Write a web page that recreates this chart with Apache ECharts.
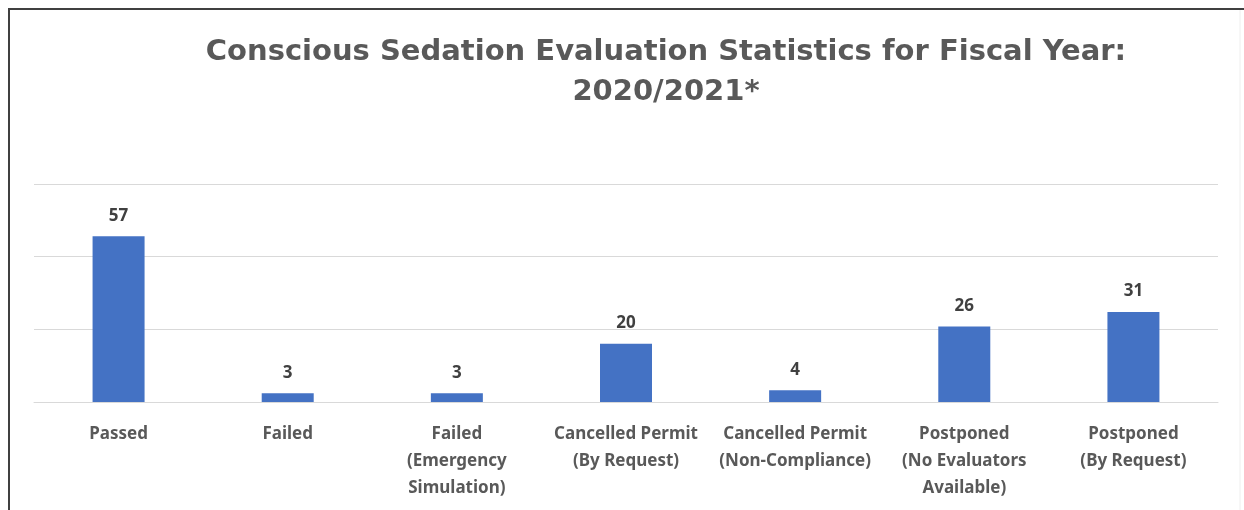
<!DOCTYPE html>
<html>
<head>
<meta charset="utf-8">
<script src="https://cdn.jsdelivr.net/npm/echarts@6/dist/echarts.min.js"></script>
<style>
html,body{margin:0;padding:0;background:#fff;}
#chart{width:1244px;height:510px;}
</style>
</head>
<body>
<div id="chart"></div>
<script>
const titleText = 'Conscious Sedation Evaluation Statistics for Fiscal Year:\n2020/2021*';
const categories = [
  'Passed',
  'Failed',
  'Failed\n(Emergency\nSimulation)',
  'Cancelled Permit\n(By Request)',
  'Cancelled Permit\n(Non-Compliance)',
  'Postponed\n(No Evaluators\nAvailable)',
  'Postponed\n(By Request)'
];
const counts = [57, 3, 3, 20, 4, 26, 31];
const yMin = 0, yMax = 75, yStep = 25;

const chart = echarts.init(document.getElementById('chart'));
chart.setOption({
  animation: false,
  backgroundColor: '#ffffff',
  title: {
    text: titleText,
    left: 661,
    top: 27,
    textAlign: 'center',
    textStyle: {
      fontFamily: 'DejaVu Sans',
      fontWeight: 'bold',
      fontSize: 29,
      color: '#595959',
      lineHeight: 40
    }
  },
  graphic: [
    { type: 'line', shape: { x1: 8, y1: 9, x2: 1244, y2: 9 }, style: { stroke: '#404040', lineWidth: 2 } },
    { type: 'line', shape: { x1: 9, y1: 8, x2: 9, y2: 510 }, style: { stroke: '#404040', lineWidth: 2 } },
    { type: 'line', shape: { x1: 1240, y1: 10, x2: 1240, y2: 510 }, style: { stroke: '#eeeeee', lineWidth: 1 } }
  ],
  grid: { left: 34, right: 26, top: 184, bottom: 108 },
  xAxis: {
    type: 'category',
    data: categories,
    axisLine: { show: true, lineStyle: { color: '#d9d9d9', width: 1 } },
    axisTick: { show: false },
    axisLabel: {
      interval: 0,
      margin: 19,
      fontFamily: 'Noto Sans',
      fontWeight: 'bold',
      fontSize: 17,
      lineHeight: 27,
      color: '#595959'
    }
  },
  yAxis: {
    type: 'value',
    min: yMin, max: yMax, interval: yStep,
    axisLabel: { show: false },
    axisLine: { show: false },
    axisTick: { show: false },
    splitLine: { lineStyle: { color: '#d9d9d9', width: 1 } }
  },
  series: [{
    type: 'bar',
    data: counts,
    barWidth: 52,
    itemStyle: { color: '#4472C4' },
    label: {
      show: true,
      position: 'top',
      distance: 12,
      fontFamily: 'Noto Sans',
      fontWeight: 'bold',
      fontSize: 17,
      color: '#404040'
    }
  }]
});
</script>
</body>
</html>
